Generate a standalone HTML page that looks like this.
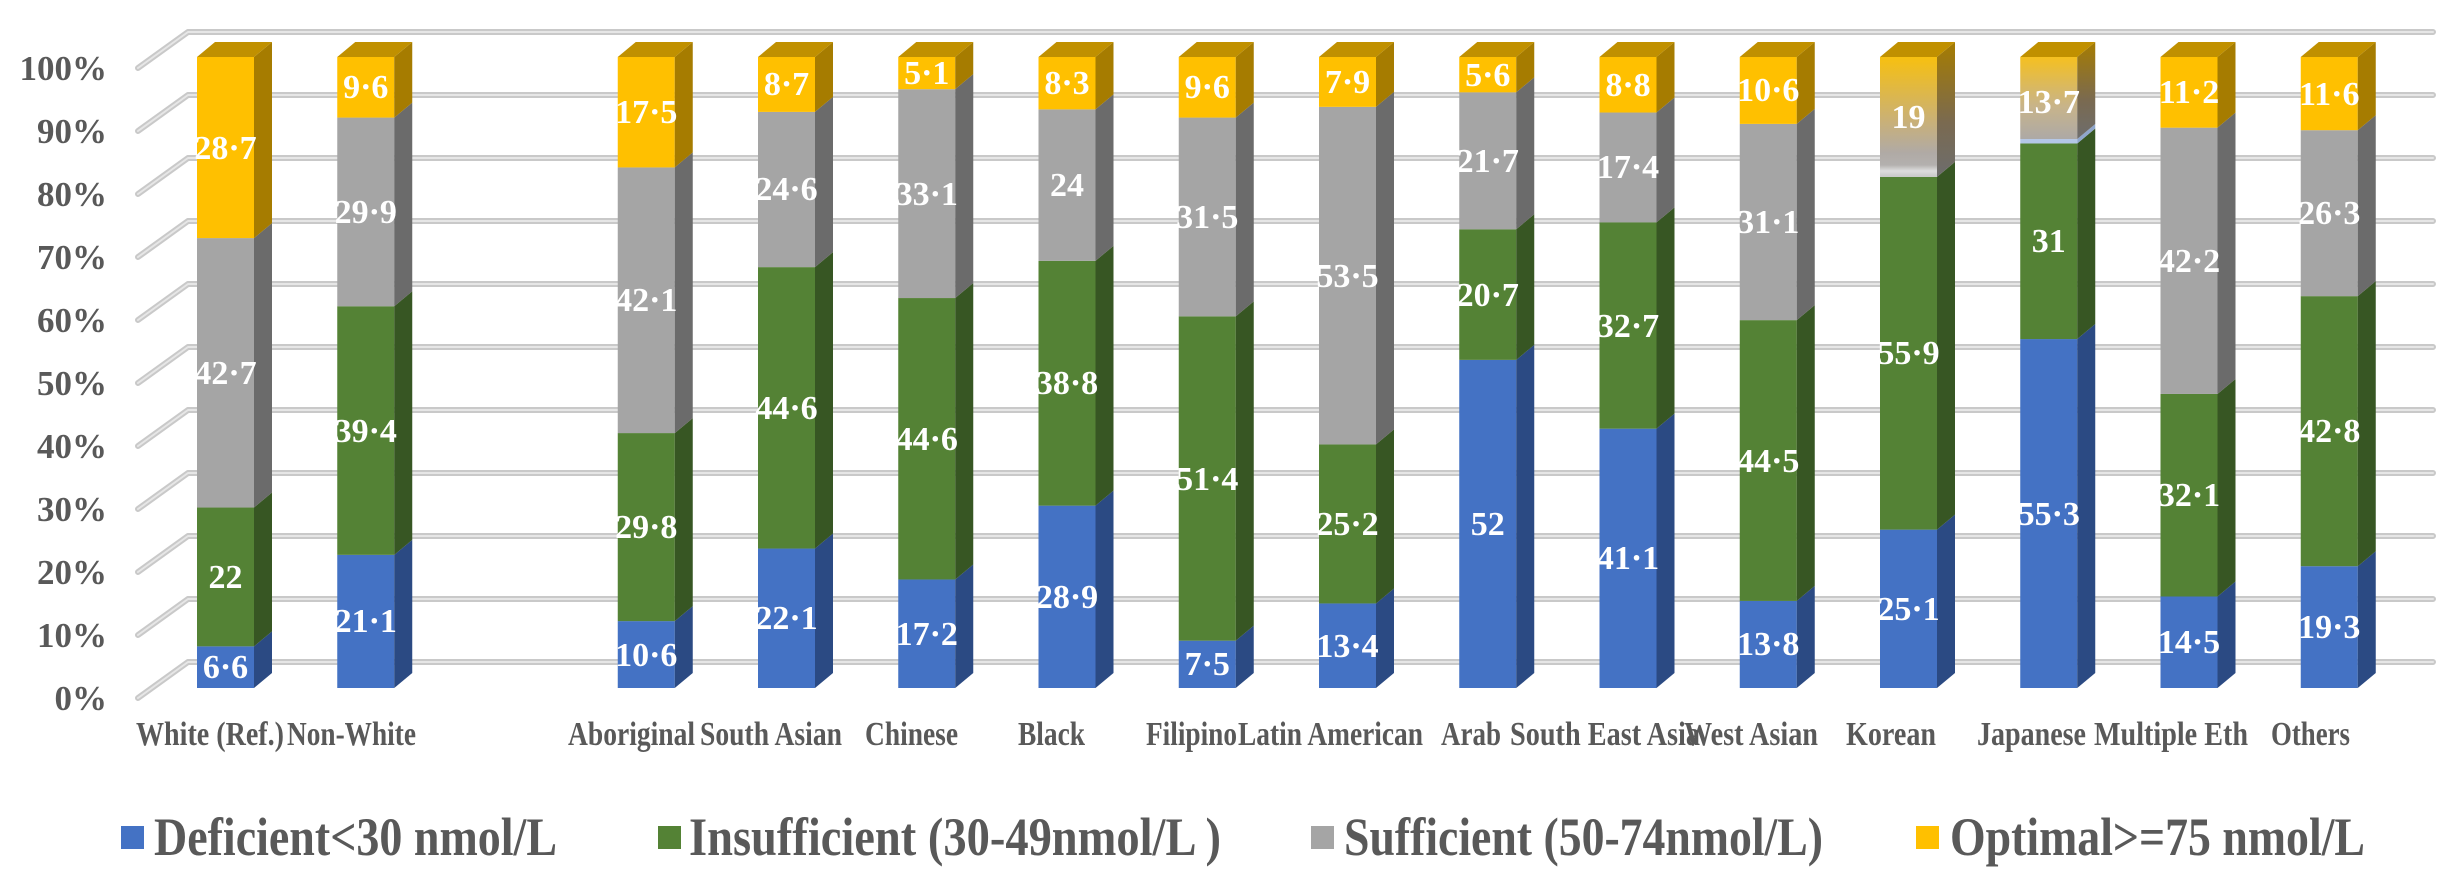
<!DOCTYPE html>
<html><head><meta charset="utf-8"><style>
html,body{margin:0;padding:0;background:#fff;}
svg{display:block;}
text{font-family:"Liberation Serif",serif;font-weight:bold;}
.y{fill:#595959;font-size:35px;text-anchor:end;}
.d{fill:#fff;font-size:34px;text-anchor:middle;}
.c{fill:#595959;font-size:34px;}
.l{fill:#595959;font-size:54px;}
</style></head><body>
<svg id="s" width="2459" height="875" viewBox="0 0 2459 875" xmlns="http://www.w3.org/2000/svg">
<defs>
<linearGradient id="gk" x1="0" y1="0" x2="0" y2="1">
<stop offset="0" stop-color="#f7c010"/><stop offset="0.55" stop-color="#c8b07a"/><stop offset="0.8" stop-color="#b0aaa5"/><stop offset="0.9" stop-color="#b3b0ae"/><stop offset="0.95" stop-color="#dddddd"/><stop offset="1" stop-color="#c8c8c8"/></linearGradient>
<linearGradient id="gks" x1="0" y1="0" x2="0" y2="1">
<stop offset="0" stop-color="#a67c00"/><stop offset="0.6" stop-color="#7a6a50"/><stop offset="1" stop-color="#6d6d6d"/></linearGradient>
<linearGradient id="gj" x1="0" y1="0" x2="0" y2="1">
<stop offset="0" stop-color="#f5c020"/><stop offset="0.6" stop-color="#c8b48a"/><stop offset="1" stop-color="#ada9a6"/></linearGradient>
</defs>
<g id="grid"></g>
<g id="bars"></g>
<g>
<text class="y" x="107" y="80">100%</text>
<text class="y" x="107" y="143">90%</text>
<text class="y" x="107" y="206">80%</text>
<text class="y" x="107" y="269">70%</text>
<text class="y" x="107" y="332">60%</text>
<text class="y" x="107" y="395">50%</text>
<text class="y" x="107" y="458">40%</text>
<text class="y" x="107" y="521">30%</text>
<text class="y" x="107" y="584">20%</text>
<text class="y" x="107" y="647">10%</text>
<text class="y" x="107" y="710">0%</text>
</g>
<g>
<text class="d" x="225.5" y="678">6·6</text><text class="d" x="225.5" y="588">22</text><text class="d" x="225.5" y="384">42·7</text><text class="d" x="225.5" y="159">28·7</text>
<text class="d" x="365.75" y="632">21·1</text><text class="d" x="365.75" y="442">39·4</text><text class="d" x="365.75" y="223">29·9</text><text class="d" x="365.75" y="98">9·6</text>
<text class="d" x="646.25" y="666">10·6</text><text class="d" x="646.25" y="538">29·8</text><text class="d" x="646.25" y="311">42·1</text><text class="d" x="646.25" y="123">17·5</text>
<text class="d" x="786.5" y="629">22·1</text><text class="d" x="786.5" y="419">44·6</text><text class="d" x="786.5" y="200">24·6</text><text class="d" x="786.5" y="95">8·7</text>
<text class="d" x="926.75" y="645">17·2</text><text class="d" x="926.75" y="450">44·6</text><text class="d" x="926.75" y="205">33·1</text><text class="d" x="926.75" y="84">5·1</text>
<text class="d" x="1067" y="608">28·9</text><text class="d" x="1067" y="394">38·8</text><text class="d" x="1067" y="196">24</text><text class="d" x="1067" y="94">8·3</text>
<text class="d" x="1207.25" y="675">7·5</text><text class="d" x="1207.25" y="490">51·4</text><text class="d" x="1207.25" y="228">31·5</text><text class="d" x="1207.25" y="98">9·6</text>
<text class="d" x="1347.5" y="657">13·4</text><text class="d" x="1347.5" y="535">25·2</text><text class="d" x="1347.5" y="287">53·5</text><text class="d" x="1347.5" y="93">7·9</text>
<text class="d" x="1487.75" y="535">52</text><text class="d" x="1487.75" y="306">20·7</text><text class="d" x="1487.75" y="172">21·7</text><text class="d" x="1487.75" y="86">5·6</text>
<text class="d" x="1628" y="569">41·1</text><text class="d" x="1628" y="337">32·7</text><text class="d" x="1628" y="178">17·4</text><text class="d" x="1628" y="96">8·8</text>
<text class="d" x="1768.25" y="655">13·8</text><text class="d" x="1768.25" y="472">44·5</text><text class="d" x="1768.25" y="233">31·1</text><text class="d" x="1768.25" y="101">10·6</text>
<text class="d" x="1908.5" y="620">25·1</text><text class="d" x="1908.5" y="364">55·9</text><text class="d" x="1908.5" y="128">19</text>
<text class="d" x="2048.75" y="525">55·3</text><text class="d" x="2048.75" y="252">31</text><text class="d" x="2048.75" y="113">13·7</text>
<text class="d" x="2189" y="653">14·5</text><text class="d" x="2189" y="506">32·1</text><text class="d" x="2189" y="272">42·2</text><text class="d" x="2189" y="103">11·2</text>
<text class="d" x="2329.25" y="638">19·3</text><text class="d" x="2329.25" y="442">42·8</text><text class="d" x="2329.25" y="224">26·3</text><text class="d" x="2329.25" y="105">11·6</text>
</g>
<g>
<text class="c" x="136" y="745" textLength="148" lengthAdjust="spacingAndGlyphs">White  (Ref.)</text>
<text class="c" x="287" y="745" textLength="129" lengthAdjust="spacingAndGlyphs">Non-White</text>
<text class="c" x="568" y="745" textLength="127" lengthAdjust="spacingAndGlyphs">Aboriginal</text>
<text class="c" x="700" y="745" textLength="142" lengthAdjust="spacingAndGlyphs">South Asian</text>
<text class="c" x="865" y="745" textLength="93" lengthAdjust="spacingAndGlyphs">Chinese</text>
<text class="c" x="1018" y="745" textLength="67" lengthAdjust="spacingAndGlyphs">Black</text>
<text class="c" x="1146" y="745" textLength="91" lengthAdjust="spacingAndGlyphs">Filipino</text>
<text class="c" x="1238" y="745" textLength="185" lengthAdjust="spacingAndGlyphs">Latin American</text>
<text class="c" x="1441" y="745" textLength="60" lengthAdjust="spacingAndGlyphs">Arab</text>
<text class="c" x="1510" y="745" textLength="190" lengthAdjust="spacingAndGlyphs">South East Asia</text>
<text class="c" x="1684" y="745" textLength="134" lengthAdjust="spacingAndGlyphs">West Asian</text>
<text class="c" x="1846" y="745" textLength="90" lengthAdjust="spacingAndGlyphs">Korean</text>
<text class="c" x="1977" y="745" textLength="109" lengthAdjust="spacingAndGlyphs">Japanese</text>
<text class="c" x="2094" y="745" textLength="154" lengthAdjust="spacingAndGlyphs">Multiple  Eth</text>
<text class="c" x="2271" y="745" textLength="79" lengthAdjust="spacingAndGlyphs">Others</text>
</g>
<g>
<rect x="121" y="826" width="23" height="23" fill="#4472c4"/>
<text class="l" x="154" y="855" textLength="403" lengthAdjust="spacingAndGlyphs">Deficient&lt;30 nmol/L</text>
<rect x="658" y="826" width="23" height="23" fill="#548235"/>
<text class="l" x="689" y="855" textLength="532" lengthAdjust="spacingAndGlyphs">Insufficient (30-49nmol/L )</text>
<rect x="1311" y="826" width="23" height="23" fill="#a5a5a5"/>
<text class="l" x="1344" y="855" textLength="479" lengthAdjust="spacingAndGlyphs">Sufficient (50-74nmol/L)</text>
<rect x="1916" y="826" width="23" height="23" fill="#ffc000"/>
<text class="l" x="1950" y="855" textLength="415" lengthAdjust="spacingAndGlyphs">Optimal&gt;=75 nmol/L</text>
</g>
</svg>
<script>
(function(){
var NS="http://www.w3.org/2000/svg";
function el(p,t,a){var e=document.createElementNS(NS,t);for(var k in a)e.setAttribute(k,a[k]);p.appendChild(e);return e;}
var g=document.getElementById("grid");
for(var k=0;k<=10;k++){
 var yb=32+63*(10-k);
 var d="M138,"+(yb+36)+" L188,"+yb+" L2433,"+yb;
 el(g,"path",{d:d,fill:"none",stroke:"#c9c9c9","stroke-width":6,"stroke-linecap":"round","stroke-linejoin":"round"});
 el(g,"path",{d:d,fill:"none",stroke:"#e6e6e6","stroke-width":2,"stroke-linecap":"round","stroke-linejoin":"round"});
}
var b=document.getElementById("bars");
var data=[[0,[6.6,22,42.7,28.7]],[1,[21.1,39.4,29.9,9.6]],[3,[10.6,29.8,42.1,17.5]],[4,[22.1,44.6,24.6,8.7]],
[5,[17.2,44.6,33.1,5.1]],[6,[28.9,38.8,24,8.3]],[7,[7.5,51.4,31.5,9.6]],[8,[13.4,25.2,53.5,7.9]],
[9,[52,20.7,21.7,5.6]],[10,[41.1,32.7,17.4,8.8]],[11,[13.8,44.5,31.1,10.6]],[12,[25.1,55.9,0,19]],
[13,[55.3,31,0.7,13]],[14,[14.5,32.1,42.2,11.2]],[15,[19.3,42.8,26.3,11.6]]];
var F=["#4472c4","#548235","#a5a5a5","#ffc000"],S=["#2b4a83","#375623","#6b6b6b","#a67c00"];
function Y(p){return 688-6.31*p;}
data.forEach(function(r){
 var x=197+140.25*r[0],c=0;
 r[1].forEach(function(v,j){
  if(v<=0)return;
  var y0=Y(c),y1=Y(c+v);c+=v;
  var f=F[j],s=S[j];
  if(r[0]==12&&j==3){f="url(#gk)";s="url(#gks)";}
  if(r[0]==13&&j==3){f="url(#gj)";s="url(#gks)";}
  if(r[0]==13&&j==2){f="#b4c7e7";s="#8fa6cc";}
  el(b,"rect",{x:x,y:y1,width:57,height:y0-y1,fill:f});
  el(b,"polygon",{points:(x+57)+","+y0+" "+(x+75)+","+(y0-15)+" "+(x+75)+","+(y1-15)+" "+(x+57)+","+y1,fill:s});
 });
 el(b,"polygon",{points:x+",57 "+(x+18)+",42 "+(x+75)+",42 "+(x+57)+",57",fill:"#c09000"});
});
})();
</script>
</body></html>
